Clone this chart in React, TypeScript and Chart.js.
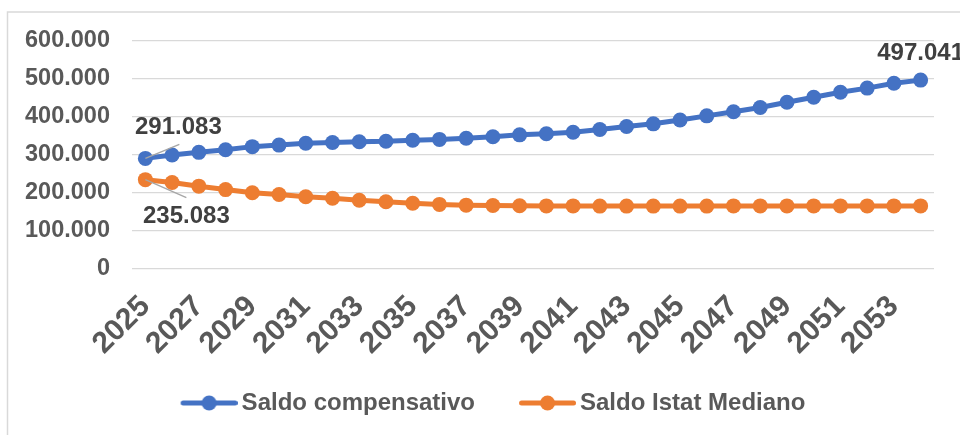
import React, { useEffect, useRef } from 'react';
import { Chart, registerables } from 'chart.js';

Chart.register(...registerables);

const years = [
  '2025', '2026', '2027', '2028', '2029', '2030', '2031', '2032', '2033', '2034',
  '2035', '2036', '2037', '2038', '2039', '2040', '2041', '2042', '2043', '2044',
  '2045', '2046', '2047', '2048', '2049', '2050', '2051', '2052', '2053', '2054',
];

const saldoCompensativo = [
  291083, 300000, 307000, 314000, 322000, 326000, 331000, 333000, 335000, 336000,
  339000, 341000, 344000, 348000, 353000, 356000, 360000, 367000, 375000, 382000,
  392000, 403000, 414000, 425000, 439000, 452000, 465000, 476000, 489000, 497041,
];

const saldoIstatMediano = [
  235083, 227600, 218000, 209000, 200500, 196000, 190000, 186000, 181000, 177000,
  173000, 170000, 168000, 167000, 166500, 166000, 166000, 165500, 165500, 165500,
  165500, 165500, 166000, 166000, 166000, 166000, 166000, 166000, 166000, 166000,
];

const seriesNames = ['Saldo compensativo', 'Saldo Istat Mediano'];
const seriesColors = ['#4472C4', '#ED7D31'];

// which points carry a value label
const labelledPoints = [
  { dataset: 0, index: 0 },
  { dataset: 1, index: 0 },
  { dataset: 0, index: 29 },
];

const FONT = '"Liberation Sans", Arial, Helvetica, sans-serif';
const TEXT = '#595959';

const fmt = (v: number) =>
  String(Math.round(v)).replace(/\B(?=(\d{3})+(?!\d))/g, '.');

const LEGEND_BOX = 75;

function makeMarker(color: string) {
  const c = document.createElement('canvas');
  c.width = LEGEND_BOX + 16;
  c.height = 16;
  const ctx = c.getContext('2d')!;
  const x0 = c.width - 57;
  ctx.strokeStyle = color;
  ctx.lineWidth = 5;
  ctx.lineCap = 'round';
  ctx.beginPath();
  ctx.moveTo(x0 + 2.5, 8);
  ctx.lineTo(x0 + 54.5, 8);
  ctx.stroke();
  ctx.fillStyle = color;
  ctx.beginPath();
  ctx.arc(x0 + 28.5, 8, 7.5, 0, Math.PI * 2);
  ctx.fill();
  return c;
}

// placement of labels relative to their point (label centre and leader end)
const labelPlacement = [
  { dx: 33, dy: -31, lx: 34, ly: -14 },
  { dx: 41, dy: 37, lx: 41, ly: 18 },
  { dx: 0, dy: -27, lx: null as number | null, ly: null as number | null },
];

const frameAndLabels = {
  id: 'frameAndLabels',
  beforeDraw(chart: any) {
    const ctx = chart.ctx;
    ctx.save();
    ctx.fillStyle = '#ffffff';
    ctx.fillRect(0, 0, chart.width, chart.height);
    ctx.strokeStyle = '#d9d9d9';
    ctx.lineWidth = 1.5;
    ctx.strokeRect(7.5, 12, 1200, 1200);
    ctx.restore();
  },
  afterDatasetsDraw(chart: any) {
    const ctx = chart.ctx;
    ctx.save();
    labelledPoints.forEach((p, i) => {
      const el = chart.getDatasetMeta(p.dataset).data[p.index];
      const value = chart.data.datasets[p.dataset].data[p.index] as number;
      const pl = labelPlacement[i];
      if (pl.lx !== null && pl.ly !== null) {
        ctx.strokeStyle = '#a6a6a6';
        ctx.lineWidth = 1.3;
        ctx.beginPath();
        ctx.moveTo(el.x, el.y);
        ctx.lineTo(el.x + pl.lx, el.y + pl.ly);
        ctx.stroke();
      }
      ctx.fillStyle = '#404040';
      ctx.font = `bold 24px ${FONT}`;
      ctx.textAlign = 'center';
      ctx.textBaseline = 'middle';
      ctx.fillText(fmt(value), el.x + pl.dx, el.y + pl.dy);
    });
    ctx.restore();
  },
};

export default function App() {
  const ref = useRef<HTMLCanvasElement | null>(null);

  useEffect(() => {
    if (!ref.current) return;
    const markers = seriesColors.map(makeMarker);
    const chart = new Chart(ref.current, {
      type: 'line',
      data: {
        labels: years,
        datasets: [
          {
            label: seriesNames[0],
            data: saldoCompensativo,
            borderColor: seriesColors[0],
            backgroundColor: seriesColors[0],
            borderWidth: 5,
            pointRadius: 7.5,
            pointBorderWidth: 0,
            pointBackgroundColor: seriesColors[0],
            tension: 0,
          },
          {
            label: seriesNames[1],
            data: saldoIstatMediano,
            borderColor: seriesColors[1],
            backgroundColor: seriesColors[1],
            borderWidth: 5,
            pointRadius: 7.5,
            pointBorderWidth: 0,
            pointBackgroundColor: seriesColors[1],
            tension: 0,
          },
        ],
      },
      options: {
        responsive: false,
        animation: false,
        layout: { padding: { left: 0, right: 0, top: 41, bottom: 10 } },
        scales: {
          x: {
            offset: true,
            grid: { display: false, drawTicks: false },
            border: { display: false },
            afterFit: (s: any) => {
              s.height = 104;
              s.paddingRight = 26;
              s.paddingLeft = 0;
            },
            ticks: {
              autoSkip: false,
              minRotation: 45,
              maxRotation: 45,
              padding: 20,
              color: TEXT,
              font: { family: FONT, size: 30, weight: 'bold' },
              callback: (_v: any, i: number) => (i % 2 === 0 ? years[i] : ''),
            },
          },
          y: {
            min: 0,
            max: 600000,
            grid: { color: '#d9d9d9', lineWidth: 1.3, drawTicks: false },
            border: { display: false },
            afterFit: (s: any) => {
              s.width = 132;
            },
            ticks: {
              stepSize: 100000,
              padding: 22,
              color: TEXT,
              font: { family: FONT, size: 23.5, weight: 'bold' },
              callback: (v: any) => fmt(Number(v)),
            },
          },
        },
        plugins: {
          tooltip: { enabled: false },
          legend: {
            position: 'bottom',
            labels: {
              usePointStyle: true,
              pointStyleWidth: LEGEND_BOX,
              padding: 18,
              color: TEXT,
              font: { family: FONT, size: 24, weight: 'bold' },
              generateLabels: (ch: any) => {
                const items = Chart.defaults.plugins.legend.labels.generateLabels(ch);
                return items.map((it: any, i: number) => ({
                  ...it,
                  pointStyle: markers[i],
                }));
              },
            },
          },
        },
      },
      plugins: [frameAndLabels],
    } as any);
    return () => chart.destroy();
  }, []);

  return (
    <div style={{ position: 'absolute', left: 0, top: 0, width: 960, height: 435, overflow: 'hidden', background: '#fff' }}>
      <canvas ref={ref} width={960} height={435} style={{ display: 'block' }} />
    </div>
  );
}
